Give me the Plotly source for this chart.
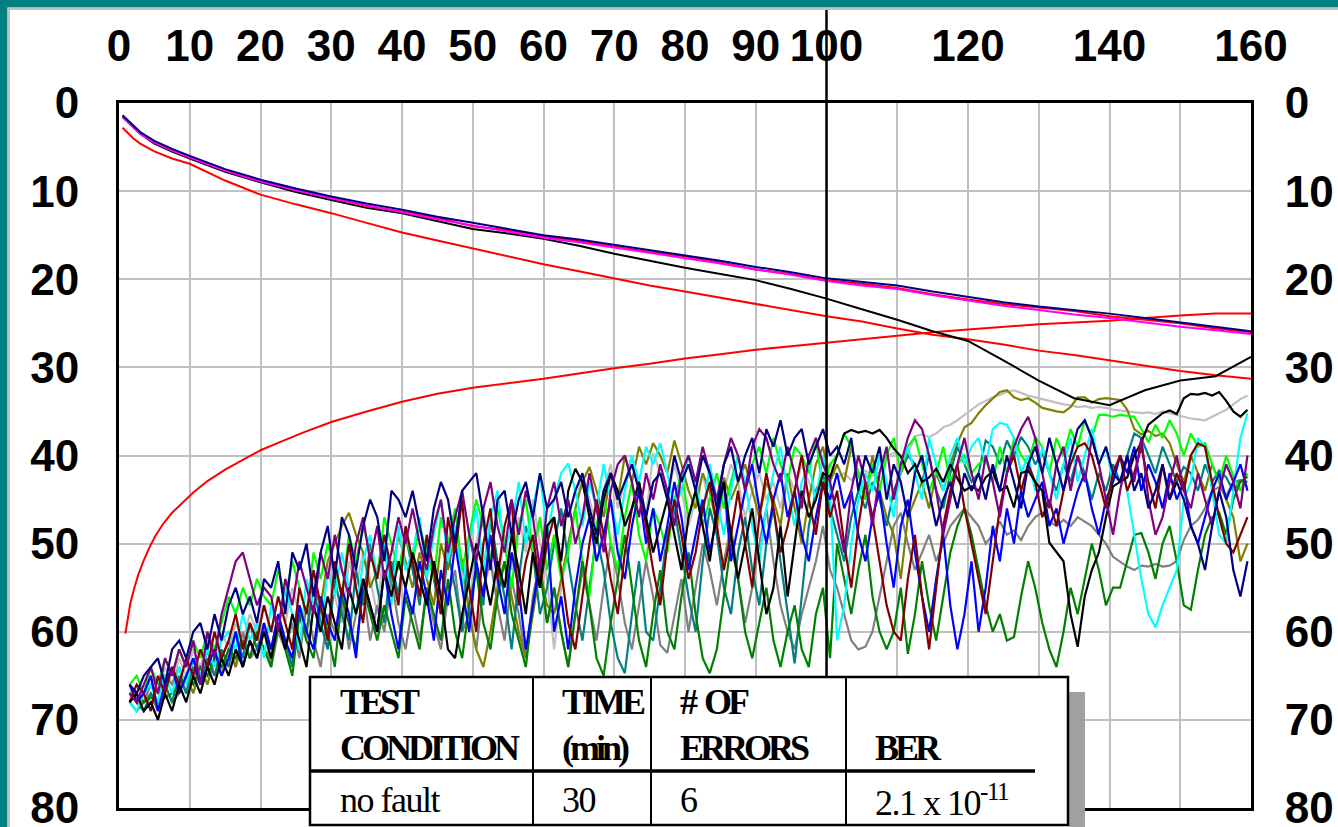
import numpy as np
import plotly.graph_objects as go

# ---------------------------------------------------------------- data ----
# sample times (minutes) of the fluctuating channel traces
TIME = np.arange(1.5, 160.0, 1.0)

NAVY = [66,67,65,64,63,66,62,61,63,60,59,62,58,61,57,55,58,56,59,54,
        55,52,58,51,53,50,56,51,48,54,47,49,53,48,45,47,52,44,45,47,
        44,48,52,46,43,45,50,44,43,42,47,53,45,44,49,45,43,47,42,46,
        45,43,47,44,42,46,49,44,42,45,43,41,44,47,43,42,45,40,43,41,
        44,40,42,46,41,39,43,40,38,42,37,39,36,40,38,37,41,39,37,40,
        39,41,38,44,40,42,39,45,41,43,47,42,40,44,48,45,43,46,42,44,
        42,45,41,44,40,43,46,41,39,42,38,41,44,40,37,36,38,41,39,42,
        43,40,44,42,46,44,41,45,43,45,48,50,53,48,44,47,53,56,52]
BLUE = [66,68,67,65,69,66,64,67,65,63,66,64,62,65,63,60,64,61,63,59,
        62,58,61,63,57,60,62,56,59,61,55,58,63,54,57,60,53,58,62,55,
        58,52,56,61,53,57,50,55,60,52,56,49,54,58,51,55,62,57,52,48,
        60,56,62,55,50,47,52,49,45,51,54,48,44,50,46,52,48,43,47,53,
        49,45,51,47,43,52,48,44,41,46,50,45,42,47,44,49,52,47,43,45,
        42,46,44,49,52,47,44,50,55,48,45,51,56,60,54,49,57,62,58,52,
        60,55,48,52,46,50,44,47,45,43,48,46,50,47,44,42,46,49,45,43,
        40,42,39,44,41,43,46,42,45,43,48,50,47,44,42,45,43,41,44]
PURPLE = [67,68,66,64,67,63,65,62,64,61,66,60,63,58,55,52,51,54,57,55,
          56,60,54,57,52,55,58,51,54,49,53,56,50,47,52,48,54,51,47,50,
          46,50,53,48,45,51,47,44,49,52,46,43,48,51,45,49,44,47,53,46,
          43,48,45,50,47,42,46,51,44,41,40,43,47,42,45,41,44,48,42,40,
          43,39,42,45,41,38,40,44,39,37,38,41,43,39,42,46,40,38,41,43,
          47,51,44,40,43,48,42,39,45,41,38,36,37,40,44,49,45,41,38,42,
          45,40,43,47,42,39,37,35.6,38,42,46,41,39,44,40,43,38,41,45,49,
          44,40,43,38,45,49,47,43,40,44,46,42,45,48,44,41,43,46,40]
MAROON = [68,66,67,69,65,67,64,66,63,65,62,64,60,63,61,58,62,59,61,57,
          60,56,59,62,55,58,53,57,61,52,56,50,55,59,51,54,49,53,57,48,
          52,56,49,53,58,47,51,45,55,60,50,46,54,48,45,57,52,49,55,50,
          47,53,59,62,56,50,45,49,54,58,51,46,43,48,53,57,50,45,49,54,
          51,46,43,48,53,49,44,50,55,47,42,46,51,48,44,40,45,49,43,47,
          44,50,55,48,43,47,52,57,60,61,54,49,56,62,55,48,44,41,46,50,
          54,58,52,46,42,40,44,41,43,47,45,48,44,41,39,38.6,40,43,46,42,
          40,44,42,39,43,46,41,45,42,44,40,38.6,39,43,47,50,51,49,47]
GREEN = [67,67.5,68,67.5,67.8,67.5,67,66,65,66,64,65,63,64,62,63,61,63,60,62,
         64,59,62,65,58,61,63,57,60,64,56,59,62,55,58,61,57,60,63,56,
         59,62,55,58,61,54,60,63,57,53,59,62,56,52,58,61,64,57,53,59,
         55,60,64,58,52,57,63,65,59,54,49,55,61,64,58,53,60,62,56,51,
         58,63,64.7,62,56,50,54,60,63,59,55,61,64,60,57,62,64,58,55,63,
         50,54,58,53,49,56,60,62,60,55,62.5,58,52,57,61,56,51,48,46,49,
         53,57,60,58,61,60.6,56,52,55,59,62,64,60,55,58,54,50,53,57,55,
         55,52,49,48.8,51,54,50,48,52,57,57.5,53,49,47,46.5,49,45,43,42.4]
LIME = [66,65,67,64,66,63,65,62,64,61,63,60,62,59,56,58,55,57,54,56,
        57,53,56,52,55,58,51,54,50,53,56,49,52,48,51,54,47,50,53,49,
        52,48,51,54,47,50,46,53,49,45,48,52,46,50,55,48,45,51,47,53,
        49,54,51,46,52,56,48,44,50,53,47,43,49,52,46,48,51,45,42,47,
        44,48,45,42,46,43,40,44,41,39,42,38,41,43,39,40,42,38,44,41,
        40,37.5,39,42,45,41,44,40,38,42,39,37.9,41,44,42,39,43,41,40,42,
        41,40.3,43,39,42,38,40,41,37.9,39,42,38,40,37,39,36,38,35.4,35.4,35.6,
        35.4,35.5,35.6,37,38.5,36.5,38,36,37.5,40,37.5,39,38.6,41,43,40,42.4,44,42]
CYAN = [68,69,67,66,68,65,67,64,66,63,65,62,64,61,60,62,58,61,59,63,
        57,60,55,58,62,54,57,60,53,56,51,55,58,52,49,54,50,57,48,53,
        51,47,54,49,45,52,48,55,50,46,53,47,44,51,48,43,50,46,42,49,
        45,42,40.9,44,48,43,46,41,45,49,44,40,43,39,41,38.6,42,46,44,40,
        43,47,41,45,49,44,40,43,48,52,46,42,39,44,48,43,41,45,40,44,
        61,57,50,45,42,44,40,43,47,41,39,42,45,38,41,44,40,38,41,39,
        38,41,37,36.3,36.5,38,42,40,44,39,42,45,41,38,43,40,37,41,39,43,
        40,44,49,54,58,59.5,57,55,53,45,43,38,39,44,49,50,44,38,35.2]
TEAL = [67,68,69,67,68,66,68,65,67,64,66,63,65,62,64,60,63,59,62,60,
        62,58,61,64,57,60,55,59,62,54,58,61,53,57,50,55,59,52,56,49,
        53,57,50,54,58,51,55,60,49,53,57,47,52,56,62,54,48,51,58,55,
        50,46,52,57,61,55,49,53,59,63,64.7,58,52,60,61,55,49,46,51,56,
        60,52,46,49,55,58,51,47,53,57,50,46,52,58,63.6,56,48,44,42,46,
        49,52,47,44,46,43,45,48,44,42,40,41,43,40,44,46,42,39,41,43,
        42,38.3,39,41,38.3,40,37.9,39,41,39.7,42,44,41,43,40,42,45,42,44,41,
        43,40,37.5,38,40,42,39,41,43,41.3,42,44,41,43,41.7,42.5,44,42.8,43]
OLIVE = [68,69,68,67,69,66,68,67,65,67,64,66,63,65,62,64,61,63,60,62,
         63,59,61,64,58,60,55,57,52,50,48,46.5,49,51,55,53,50,54,49,52,
         55,51,54,57,50,53,49,52,58,62,64,60,55,52,56,60,63,58,53,57,
         58,54,50,46,43,41.3,44,47,42,45,40,43,39,41,38.6,40,42,38.3,41,44,
         46,42,44,48,42.5,45,43,41,44,47,43,45,48,42,46,50,45,41,39,43,
         41,43,39,42,45,40,44,47,49,54,47,45,43,46,42,44,41,38.6,36.8,36.3,
         35.2,34.3,33.5,32.8,32.6,33.4,33.7,33.5,34,34.6,34.8,35,35.1,34.5,33.4,33.4,34,33.6,33.5,33.6,
         33.7,34.8,37,37.6,37.2,37.8,37.5,38.6,41,43,40,42,44,41,43,45,47,52,50]
GRAY = [66,67,68,66,67,65,66,64,67,63,66,62,65,63,61,64,60,63,62,59,
        64,60,62,59,63,57,61,64,58,60,56,62,58,55,61,57,60,54,59,62,
        57,61,55,59,62,56,53,60,58,62,55,52,57,61,54,58,63,56,52,59,
        55,60,64,58,53,57,61,55,50,54,59,62,57,52,56,61.5,62.4,58,54,60,
        55,50,53,57,52,48,54,59,55,50,46,52,57,60,62,58,55,52,48,53,
        55,58,61,62,61.7,60,56,52,48,46.5,50,53,51,49,52,50,48,47,46,47,
        48,50,49,47.5,49,48.5,49.6,48,47,46.5,47.5,48,47.3,48,47,47.5,48,49,50,51.5,
        52,52.6,53,52.5,52.6,52.3,52.6,52.5,52,49.6,48,47.3,46,44,43.6,44.5,43,42.8,43.6]
SILVER = [67,66,68,65,67,64,66,63,65,62,64,61,63,60,62,59,61,58,60,57,
          60,56,59,55,58,61,54,57,53,56,59,52,55,51,54,58,50,53,56,49,
          52,56,50,54,58,51,48,53,57,50,46,52,55,49,53,47,51,45,50,54,
          62,55,50,46,42,45,48,44,41,46,43,40,44,47,39.7,42,45,41,44,48,
          45,42,46,49,44,41,43,47,44,42,45,43,46,42,44,41,43,45,42,41,
          42.5,42,42.8,42,41.7,42.3,41.9,40,39.7,40.2,39.8,37.8,37.6,37.9,37.5,36.8,36.5,36,35.4,34.8,
          34.2,33.8,33.4,33.1,32.8,32.6,32.9,33.2,33.4,33.6,33.8,34,34.2,34.3,34.5,34.4,34.6,34.5,34.6,34.8,
          34.9,35,35.1,35.2,35.1,35.3,35,35.2,35.4,35.6,35.8,35.9,36,35.6,35.2,34.8,34.2,33.6,33.2]
BLACK = [68,67,69,68,70,67,69,66,68,65,67,64,66,63,65,62,64,61,63,60,
         63,59,62,58,61,64,57,60,56,59,62,55,58,54,57,60,53,56,52,55,
         51,54,57,52,56,62,63,58,54,50,53,57,52,55,49,53,58,51,55,48,
         47,52,44,41.5,43,47,50,45,42,44,48,46,43,47,51,48,45,49,53,47,
         44,48,52,46,43,49,54,50,46,52,58,55,48,56,50,44,47,45,42,42.5,
         40,37.5,37.1,37.4,37.2,37.5,37.1,38,39.2,40.1,42,41,43,42.5,41.5,43,41,42.6,44,43.5,
         44,42.5,41.8,44,43.5,45.9,42,41.7,43,44,49.9,51,52,58,61.7,56,53,51,47,43.5,
         43,42.5,40,38.5,36.5,35.8,35.2,34.9,35.3,33.5,33,33.1,32.9,33.2,32.8,33.8,35,35.6,34.8]

# slowly varying traces
SMOOTH_T = [0.5,1,2,3,5,7.5,10,15,20,25,30,35,40,45,50,55,60,65,70,75,80,
            85,90,95,100,105,110,115,120,125,130,135,140,145,150,155,160]
NAVY_S = [1.4,1.8,2.6,3.3,4.3,5.2,6.0,7.5,8.7,9.7,10.6,11.4,12.1,12.9,13.6,14.3,
          15.0,15.5,16.1,16.7,17.3,17.9,18.6,19.2,19.9,20.3,20.7,21.4,22.0,22.6,
          23.1,23.5,23.9,24.4,24.9,25.4,25.9]
MAGENTA_S = [1.6,2.0,2.8,3.5,4.5,5.4,6.2,7.7,8.9,9.9,10.8,11.6,12.4,13.2,13.9,14.6,
             15.3,15.8,16.4,17.0,17.6,18.2,18.9,19.5,20.2,20.7,21.1,21.8,22.4,23.0,
             23.5,24.0,24.4,24.9,25.4,25.8,26.2]
RED_UPPER = [1.5,1.9,2.7,3.4,4.4,5.3,6.1,7.6,8.8,9.8,10.8,11.7,12.3,13.0,14.0,14.4,
             15.1,15.7,16.3,16.9,17.4,18.1,18.9,19.4,20.1,20.5,21.0,21.7,22.3,22.8,
             23.2,23.6,24.2,24.6,25.0,25.6,26.0]
BLACK_S = [1.6,2.0,2.8,3.5,4.6,5.5,6.3,7.8,9.0,10.1,11.0,11.9,12.5,13.4,14.3,14.8,
           15.4,16.2,17.1,17.9,18.7,19.4,20.1,21.1,22.2,23.4,24.6,25.9,27.0,29.2,
           31.5,33.5,34.3,32.6,31.5,31.0,28.8]
RED_FALL = [2.8,3.2,4.0,4.6,5.5,6.3,6.9,8.8,10.4,11.5,12.5,13.6,14.7,15.6,16.5,17.4,
            18.3,19.1,19.9,20.7,21.4,22.1,22.8,23.5,24.2,24.8,25.6,26.3,26.8,27.4,
            28.1,28.6,29.2,29.8,30.4,30.9,31.3]
RISE_T = [0.9,1.2,1.6,2.1,2.7,3.4,4.2,5.1,6.2,7.5,9,10.5,12.5,15,17.5,20,23,26,30,35,
          40,45,50,55,60,65,70,75,80,85,90,95,100,105,110,115,120,125,130,135,
          140,145,150,155,160]
RED_RISE = [60.2,58.5,56.8,55.2,53.6,52.1,50.6,49.2,47.8,46.5,45.3,44.2,42.9,41.6,40.5,
            39.4,38.4,37.4,36.2,35.0,33.9,33.0,32.3,31.8,31.3,30.7,30.1,29.6,29.0,28.5,
            28.0,27.6,27.2,26.8,26.4,26.0,25.7,25.4,25.1,24.9,24.7,24.4,24.1,23.9,23.9]

X_TICKS = [0, 10, 20, 30, 40, 50, 60, 70, 80, 90, 100, 120, 140, 160]
Y_TICKS = [0, 10, 20, 30, 40, 50, 60, 70, 80]

TABLE_HEAD = [["TEST", "CONDITION"], ["TIME", "(min)"], ["#&nbsp;&nbsp;OF", "ERRORS"], ["", "BER"]]
TABLE_ROW = ["no fault", "30", "6", "2.1 x 10<sup>-11</sup>"]

# ------------------------------------------------------------- layout ----
W, H = 1338, 827
L, R, T, B = 119, 1251, 103, 808


def px(x):
    return (x - L) / (R - L)


def py(y):
    return (B - y) / (B - T)


noisy = [
    (SILVER, "#c0c0c0"), (GRAY, "#808080"), (OLIVE, "#808000"), (TEAL, "#008080"),
    (LIME, "#00ff00"), (GREEN, "#008000"), (CYAN, "#00ffff"), (BLUE, "#0000ff"),
    (MAROON, "#800000"), (BLACK, "#000000"), (PURPLE, "#800080"), (NAVY, "#000080"),
]

fig = go.Figure()
for vals, col in noisy:
    fig.add_trace(go.Scatter(x=TIME[:len(vals)], y=vals, mode="lines",
                             line=dict(color=col, width=2.2), hoverinfo="skip"))

fig.add_trace(go.Scatter(x=RISE_T, y=RED_RISE, mode="lines", line=dict(color="#ff0000", width=2)))
fig.add_trace(go.Scatter(x=SMOOTH_T, y=RED_FALL, mode="lines", line=dict(color="#ff0000", width=2)))
fig.add_trace(go.Scatter(x=SMOOTH_T, y=BLACK_S, mode="lines", line=dict(color="#000000", width=2)))
fig.add_trace(go.Scatter(x=SMOOTH_T, y=RED_UPPER, mode="lines", line=dict(color="#ff0000", width=2)))
fig.add_trace(go.Scatter(x=SMOOTH_T, y=MAGENTA_S, mode="lines", line=dict(color="#ff00ff", width=2)))
fig.add_trace(go.Scatter(x=SMOOTH_T, y=NAVY_S, mode="lines", line=dict(color="#000080", width=2)))
# carrier for the right-hand scale
fig.add_trace(go.Scatter(x=[0, 0], y=[0, 0], yaxis="y2", mode="lines",
                         line=dict(width=0), opacity=0, hoverinfo="skip"))

tick_font = dict(family="Liberation Sans, Arial, sans-serif", size=44, color="black", weight="bold")

fig.update_layout(
    width=W, height=H,
    margin=dict(l=L, r=W - R, t=T, b=H - B, autoexpand=False),
    paper_bgcolor="white", plot_bgcolor="white",
    showlegend=False,
    xaxis=dict(side="top", range=[0, 160], tickvals=X_TICKS,
               ticktext=[str(v) for v in X_TICKS], tickangle=0, automargin=False,
               ticks="outside", ticklen=21, tickcolor="rgba(0,0,0,0)",
               tickfont=tick_font, showgrid=True, gridcolor="#c0c0c0", gridwidth=2,
               minor=dict(tick0=0, dtick=10, showgrid=True, gridcolor="#c0c0c0", gridwidth=2),
               showline=True, linecolor="black", linewidth=3, mirror=True,
               zeroline=False, fixedrange=True),
    yaxis=dict(range=[80, 0], tickvals=Y_TICKS, ticks="outside", ticklen=28, automargin=False,
               tickcolor="rgba(0,0,0,0)", tickfont=tick_font, ticklabeloverflow="allow",
               showgrid=True, gridcolor="#c0c0c0", gridwidth=2,
               showline=True, linecolor="black", linewidth=3, mirror=True,
               zeroline=False, fixedrange=True),
    yaxis2=dict(range=[80, 0], tickvals=Y_TICKS, overlaying="y", side="right", automargin=False,
                ticks="outside", ticklen=24, tickcolor="rgba(0,0,0,0)", ticklabeloverflow="allow",
                tickfont=tick_font, showgrid=False, zeroline=False, showline=False,
                fixedrange=True),
)

shapes = []
# window frame
shapes.append(dict(type="rect", xref="paper", yref="paper", x0=px(0), x1=px(W), y0=py(0), y1=py(7.5),
                   fillcolor="#008080", line=dict(width=0), layer="above"))
shapes.append(dict(type="rect", xref="paper", yref="paper", x0=px(0), x1=px(7.5), y0=py(0), y1=py(H),
                   fillcolor="#008080", line=dict(width=0), layer="above"))
shapes.append(dict(type="rect", xref="paper", yref="paper", x0=px(7.5), x1=px(W), y0=py(7.5), y1=py(10),
                   fillcolor="#c0c0c0", line=dict(width=0), layer="above"))
shapes.append(dict(type="rect", xref="paper", yref="paper", x0=px(7.5), x1=px(10), y0=py(10), y1=py(H),
                   fillcolor="#c0c0c0", line=dict(width=0), layer="above"))
# marker at 100 min
shapes.append(dict(type="line", xref="x", yref="paper", x0=100, x1=100, y0=0, y1=py(10),
                   line=dict(color="black", width=2.5), layer="above"))
# results table with drop shadow
shapes.append(dict(type="rect", xref="paper", yref="paper", x0=px(1069), x1=px(1085), y0=py(692), y1=py(H + 5),
                   fillcolor="#a0a0a0", line=dict(width=0), layer="above"))
shapes.append(dict(type="rect", xref="paper", yref="paper", x0=px(310), x1=px(1068), y0=py(677), y1=py(825),
                   fillcolor="white", line=dict(color="black", width=2.5), layer="above"))
for cx in (533, 651, 846):
    shapes.append(dict(type="line", xref="paper", yref="paper", x0=px(cx), x1=px(cx), y0=py(677), y1=py(825),
                       line=dict(color="black", width=2), layer="above"))
shapes.append(dict(type="line", xref="paper", yref="paper", x0=px(310), x1=px(1035), y0=py(771), y1=py(771),
                   line=dict(color="black", width=3.5), layer="above"))

annotations = []
head_font = dict(family="Liberation Serif, Times New Roman, serif", size=36, color="black")
col_x = [338, 560, 678, 873]
for cx, (l1, l2) in zip(col_x, TABLE_HEAD):
    for txt, cy in ((l1, 702), (l2, 748)):
        if txt:
            annotations.append(dict(xref="paper", yref="paper", x=px(cx), y=py(cy),
                                    xanchor="left", yanchor="middle", showarrow=False,
                                    text=f'<b><span style="letter-spacing:-4px">{txt}</span></b>',
                                    font=head_font))
for cx, txt in zip(col_x, TABLE_ROW):
    annotations.append(dict(xref="paper", yref="paper", x=px(cx), y=py(800),
                            xanchor="left", yanchor="middle", showarrow=False,
                            text=f'<span style="letter-spacing:-1.5px">{txt}</span>',
                            font=head_font))

fig.update_layout(shapes=shapes, annotations=annotations)
fig.write_html("out.html")
